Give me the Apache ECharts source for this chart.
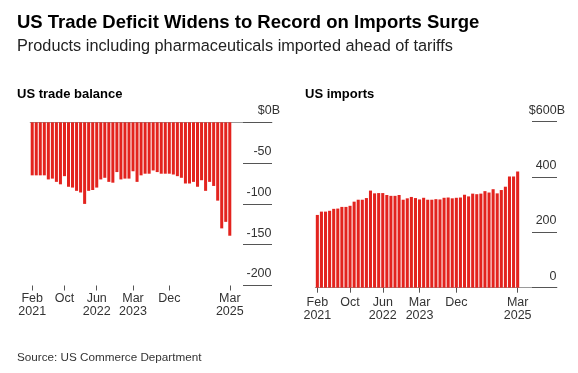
<!DOCTYPE html>
<html><head><meta charset="utf-8">
<script src="https://cdn.jsdelivr.net/npm/echarts@6/dist/echarts.min.js"></script>
<style>html,body{margin:0;padding:0;background:#fff}#c{width:578px;height:373px}</style>
</head><body><div id="c"></div>
<script>
const months = ['2021-02','2021-03','2021-04','2021-05','2021-06','2021-07','2021-08','2021-09','2021-10','2021-11','2021-12',
  '2022-01','2022-02','2022-03','2022-04','2022-05','2022-06','2022-07','2022-08','2022-09','2022-10','2022-11','2022-12',
  '2023-01','2023-02','2023-03','2023-04','2023-05','2023-06','2023-07','2023-08','2023-09','2023-10','2023-11','2023-12',
  '2024-01','2024-02','2024-03','2024-04','2024-05','2024-06','2024-07','2024-08','2024-09','2024-10','2024-11','2024-12',
  '2025-01','2025-02','2025-03'];
const tradeBalance = [-65,-65,-65,-65,-70,-69,-73,-76,-66,-79,-80,
  -84,-86,-100,-84,-83,-80,-70,-68,-73,-74,-61,-70,
  -69,-69,-60,-73,-65,-63,-63,-59,-61,-63,-63,-63,
  -64,-66,-68,-75,-75,-73,-79,-71,-84,-73,-78,-96,
  -130,-122,-139];
const imports = [263,275,275,278,285,286,292,292,296,311,318,
  318,324,351,341,342,342,335,332,332,335,318,323,
  328,324,319,325,318,318,320,319,325,326,323,325,
  326,336,330,340,338,340,349,344,356,341,353,365,
  402,402,420];
const tickIndex = [0,8,16,25,34,49];
const tickLabels = ['Feb\n2021','Oct','Jun\n2022','Mar\n2023','Dec','Mar\n2025'];
const balanceTicks = [-200,-150,-100,-50,0];
const importTicks = [0,200,400,600];

const FONT = "'Liberation Sans', Arial, sans-serif";
const RED = '#e3231e';
const TXT = '#333';

const chart = echarts.init(document.getElementById('c'), null, {renderer: 'canvas'});

function catAxis(gridIndex, tickLen, margin) {
  return {
    type: 'category', gridIndex: gridIndex, data: months, position: 'bottom',
    axisLine: {show: false, onZero: false},
    axisTick: {show: true, alignWithLabel: true, length: tickLen,
      interval: function (i) { return tickIndex.indexOf(i) >= 0; },
      lineStyle: {color: '#555', width: 1}},
    axisLabel: {show: true, interval: function (i) { return tickIndex.indexOf(i) >= 0; },
      formatter: function (v, i) { return tickLabels[tickIndex.indexOf(i)]; },
      margin: margin, color: TXT, fontSize: 12.5, fontFamily: FONT, lineHeight: 13.5},
    splitLine: {show: false}
  };
}
function frameXAxis(gridIndex, pos) {
  return {type: 'category', gridIndex: gridIndex, data: [''], position: pos,
    axisLine: {show: true, onZero: false, lineStyle: {color: '#9a9a9a', width: 1}},
    axisTick: {show: false}, axisLabel: {show: false}, splitLine: {show: false}};
}
function valueAxis(gridIndex, ticks, topVal, tickLen, visible) {
  const mn = Math.min.apply(null, ticks), mx = Math.max.apply(null, ticks);
  return {
    type: 'value', gridIndex: gridIndex, min: mn, max: mx, interval: ticks[1] - ticks[0],
    position: 'right', show: visible,
    axisLine: {show: false},
    axisTick: {show: true, inside: true, length: tickLen, lineStyle: {color: '#555', width: 1}},
    axisLabel: {show: true, inside: true, margin: -8, align: 'right', verticalAlign: 'bottom',
      padding: [0, 0, 5, 0],
      formatter: function (v) {
        return v === topVal ? '{n|$' + v + 'B}' : '{n|' + v + '}{s| }';
      },
      rich: {
        n: {fontSize: 12.5, fontFamily: FONT, color: TXT},
        s: {fontSize: 12.5, fontFamily: FONT, width: 8.5}
      }},
    splitLine: {show: false}
  };
}

const option = {
  animation: false,
  backgroundColor: '#fff',
  textStyle: {fontFamily: FONT},
  title: [
    {text: 'US Trade Deficit Widens to Record on Imports Surge', left: 17, top: 13, padding: 0,
      textStyle: {fontSize: 18.5, fontWeight: 'bold', color: '#000', fontFamily: FONT}},
    {text: 'Products including pharmaceuticals imported ahead of tariffs', left: 17, top: 39, padding: 0,
      textStyle: {fontSize: 16.3, fontWeight: 'normal', color: '#222', fontFamily: FONT}},
    {text: 'US trade balance', left: 17, top: 88, padding: 0,
      textStyle: {fontSize: 13, fontWeight: 'bold', color: '#000', fontFamily: FONT}},
    {text: 'US imports', left: 305, top: 88, padding: 0,
      textStyle: {fontSize: 13, fontWeight: 'bold', color: '#000', fontFamily: FONT}},
    {text: 'Source: US Commerce Department', left: 17, top: 352, padding: 0,
      textStyle: {fontSize: 11.7, fontWeight: 'normal', color: '#333', fontFamily: FONT}}
  ],
  grid: [
    {left: 30.2, top: 122.3, width: 201.6, height: 163.2, outerBoundsMode: 'none', containLabel: false},
    {left: 30.2, top: 122.3, width: 241.8, height: 163.2, outerBoundsMode: 'none', containLabel: false},
    {left: 315.3, top: 121.7, width: 204.4, height: 166, outerBoundsMode: 'none', containLabel: false},
    {left: 315.3, top: 121.7, width: 241.7, height: 166, outerBoundsMode: 'none', containLabel: false}
  ],
  xAxis: [
    catAxis(0, 5, 6),
    frameXAxis(1, 'top'),
    catAxis(2, 5, 8),
    frameXAxis(3, 'bottom')
  ],
  yAxis: [
    valueAxis(0, balanceTicks, 0, 29, false),
    valueAxis(1, balanceTicks, 0, 29, true),
    valueAxis(2, importTicks, 600, 25, false),
    valueAxis(3, importTicks, 600, 25, true)
  ],
  series: [
    {type: 'bar', name: 'US trade balance', xAxisIndex: 0, yAxisIndex: 0, data: tradeBalance,
      barCategoryGap: '25%', itemStyle: {color: RED}, silent: true},
    {type: 'bar', name: 'US imports', xAxisIndex: 2, yAxisIndex: 2, data: imports,
      barCategoryGap: '25%', itemStyle: {color: RED}, silent: true}
  ]
};
chart.setOption(option);
</script>
</body></html>
